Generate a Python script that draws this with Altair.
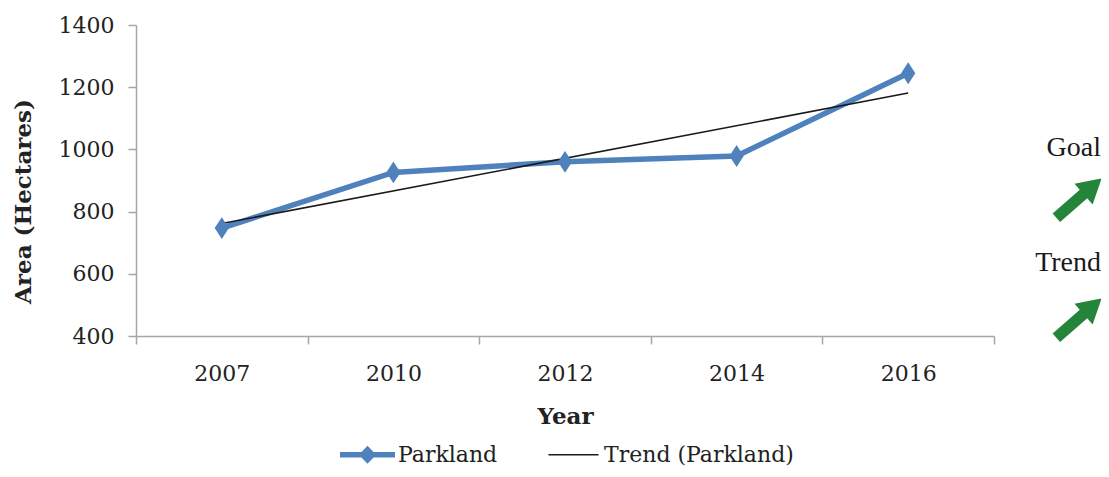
import json
import altair as alt
import pandas as pd

# ---- data ----
years = ["2007", "2010", "2012", "2014", "2016"]
area = [747, 926, 960, 979, 1245]
series_names = ["Parkland", "Trend (Parkland)"]
y_ticks = [400, 600, 800, 1000, 1200, 1400]
annotations = ["Goal", "Trend"]

# ---- styles ----
BLUE = "#4f81bd"
TREND = "#1a1a1a"
GREEN = "#24843a"
AXIS = "#a6a6a6"
FONT = "DejaVu Serif"
W, H = 858, 311

DIAMOND = "M0,-1L0.65,0L0,1L-0.65,0Z"
LEG_P = "M-1,-0.1L-0.22,-0.1L0,-0.33L0.22,-0.1L1,-0.1L1,0.1L0.22,0.1L0,0.33L-0.22,0.1L-1,0.1Z"
LEG_T = "M-0.91,-0.025L0.91,-0.025L0.91,0.025L-0.91,0.025Z"
ARROW = "M0,-1L0.46,-0.2L0.19,-0.2L0.19,1L-0.19,1L-0.19,-0.2L-0.46,-0.2Z"

df = pd.DataFrame({"Year": years, "idx": list(range(len(years))), "Area": area})

x_enc = alt.X(
    "Year:O",
    sort=years,
    bandPosition=0.5,
    scale=alt.Scale(type="band", domain=years, paddingInner=0, paddingOuter=0),
    axis=alt.Axis(title="Year", tickBand="extent", labelAngle=0, labelPadding=19,
                  titlePadding=21, titleFontSize=23),
)
y_enc = alt.Y(
    "Area:Q",
    scale=alt.Scale(domain=[400, 1400], nice=False, zero=False),
    axis=alt.Axis(values=y_ticks, format="d", title="Area (Hectares)", labelPadding=14,
                  titleX=-113, titleY=176, titleAlign="center", titleBaseline="middle",
                  titleFontSize=23),
)

line = alt.Chart(df).mark_line(color=BLUE, strokeWidth=5.5).encode(x=x_enc, y=y_enc)
points = alt.Chart(df).mark_point(shape=DIAMOND, filled=True, color=BLUE, size=480,
                                  opacity=1).encode(x=x_enc, y=y_enc)
trend = (
    alt.Chart(df)
    .transform_regression("idx", "Area")
    .transform_calculate(Year=f"{json.dumps(years)}[datum.idx]")
    .mark_line(color=TREND, strokeWidth=1.6)
    .encode(x=x_enc, y=y_enc)
)

leg_df = pd.DataFrame({"Series": series_names})
leg_opts = dict(title=None, orient="none", legendX=204, legendY=402, direction="horizontal")
legend_layer = alt.Chart(leg_df).mark_point(filled=True, size=10, opacity=1).encode(
    x=alt.value(-3000),
    y=alt.value(-3000),
    color=alt.Color("Series:N", scale=alt.Scale(domain=series_names, range=[BLUE, TREND]),
                    legend=alt.Legend(**leg_opts)),
    shape=alt.Shape("Series:N", scale=alt.Scale(domain=series_names, range=[LEG_P, LEG_T]),
                    legend=alt.Legend(**leg_opts)),
)

ann_goal = alt.Chart(pd.DataFrame({"t": [annotations[0]]})).mark_text(
    font="Liberation Serif", fontSize=28, color="#1a1a1a", align="right", baseline="middle"
).encode(text="t:N", x=alt.value(965), y=alt.value(123))
ann_trend = alt.Chart(pd.DataFrame({"t": [annotations[1]]})).mark_text(
    font="Liberation Serif", fontSize=28, color="#1a1a1a", align="right", baseline="middle"
).encode(text="t:N", x=alt.value(965), y=alt.value(238))
arrow_goal = alt.Chart(pd.DataFrame({"t": [annotations[0]]})).mark_point(
    shape=ARROW, filled=True, color=GREEN, size=3600, angle=49, opacity=1
).encode(x=alt.value(943), y=alt.value(173))
arrow_trend = alt.Chart(pd.DataFrame({"t": [annotations[1]]})).mark_point(
    shape=ARROW, filled=True, color=GREEN, size=3600, angle=49, opacity=1
).encode(x=alt.value(943), y=alt.value(293))

chart = (
    alt.layer(line, trend, points, legend_layer, ann_goal, ann_trend, arrow_goal, arrow_trend)
    .properties(
        width=W,
        height=H,
        autosize=alt.AutoSizeParams(type="none"),
        padding={"left": 128, "top": 17, "right": 107, "bottom": 133},
    )
    .configure_view(stroke=None)
    .configure_axis(
        labelFont=FONT, labelFontSize=22, labelColor="#222222",
        titleFont=FONT, titleFontSize=22, titleFontWeight="bold", titleColor="#222222",
        domainColor=AXIS, tickColor=AXIS, tickSize=8, domainWidth=1.5, tickWidth=1.5,
        grid=False,
    )
    .configure_legend(
        labelFont=FONT, labelFontSize=22, labelColor="#222222", symbolSize=3025,
        symbolStrokeWidth=0, labelOffset=3, columnPadding=48, padding=0, labelLimit=400,
    )
)

chart.save("out.html", embed_options={"renderer": "svg", "actions": False})
